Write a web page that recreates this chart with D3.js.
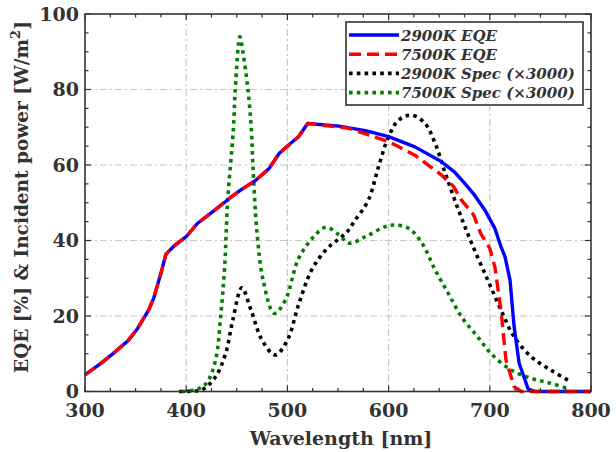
<!DOCTYPE html>
<html><head><meta charset="utf-8">
<script src="https://cdn.jsdelivr.net/npm/d3@7"></script>
<style>body{margin:0;background:#fff}svg{display:block}</style>
</head><body>
<svg id="c" width="616" height="452"></svg>
<script>
// ---- data ----
const xTicks = [300,400,500,600,700,800];
const yTicks = [0,20,40,60,80,100];

const eqe2900Wl = [300,316,328,343,352,363,368,375,380,389,400,411,426,443,454,469,482,492,503,511,520,551,577,600,626,652,665,675,685,695,705,711,715,720,724,729,738,745,800];
const eqe2900   = [4.4,7.5,10.1,13.6,16.7,21.6,24.8,31.3,36.4,38.8,41,44.5,47.6,51.2,53.4,56,59.1,63.1,65.7,67.5,71.0,70.3,69.1,67.5,64.8,60.9,58.2,55.2,52,48.1,43.2,38.4,35.7,29.5,17.2,7.5,0.6,0,0];

const eqe7500Wl = [300,316,328,343,352,363,368,375,380,389,400,411,426,443,454,469,482,492,503,511,520,561,600,626,652,664,672,684,691,700,705,711,716,724,731,800];
const eqe7500   = [4.4,7.5,10.1,13.6,16.7,21.6,24.8,31.3,36.4,38.8,41,44.5,47.6,51.2,53.4,56,59.1,63.1,65.7,67.5,71.0,69.7,66.2,62.6,57.4,54.4,50.7,46.8,41.9,37.9,33,21.6,8.3,1.3,0,0];

const spec2900Wl = [393,405,416,429,439,446,455,464,475,488,500,511,524,538,550,558,567,580,590,600,610,623,636,646,656,669,682,698,711,724,741,760,780];
const spec2900   = [0,0.1,0.5,3.9,10.1,18.9,27.5,21.6,13.6,9.7,13.6,23,32.2,37.5,40.3,42,45.4,50.7,59.5,67.5,71.9,73.2,71,65.7,57.8,48.1,39.3,29.5,21.6,14.5,9.2,5.7,2.6];

const spec7500Wl = [396,410,420,429,434,438,441,446.5,448.5,453,456,461,464.5,466,470,476,487,498,511,526,538,551,561,577,597,606,620,633,646,659,672,688,701,721,741,760,777];
const spec7500   = [0,0.5,2.2,8.3,19.8,33,50.7,69,80,94,90,80,69,59.5,42,29.5,20.7,24.2,35.2,41,43.5,41.5,39.3,41,43.7,44.1,43.2,39.3,32.2,26,19.8,14.5,10.1,5.7,3.5,2.2,0.8];

const seriesNames = ["2900K EQE","7500K EQE","2900K Spec (\u00d73000)","7500K Spec (\u00d73000)"];
const seriesColors = ["#0000ff","#ff0000","#000000","#007f00"];

// ---- layout ----
const svg = d3.select("#c");
const L = 85, R = 591, T = 14, B = 391.5;
const x = d3.scaleLinear().domain([300,800]).range([L,R]);
const y = d3.scaleLinear().domain([0,100]).range([B,T]);
const font = "'DejaVu Serif', serif";
const txtCol = "#333";

// grid
const g = svg.append("g");
g.selectAll(".gx").data(xTicks.slice(1,-1)).join("line")
  .attr("x1",d=>x(d)).attr("x2",d=>x(d)).attr("y1",T).attr("y2",B)
  .attr("stroke","#c8c8c8").attr("stroke-width",1.2).attr("stroke-dasharray","7,3,2,3");
g.selectAll(".gy").data(yTicks.slice(1,-1)).join("line")
  .attr("y1",d=>y(d)).attr("y2",d=>y(d)).attr("x1",L).attr("x2",R)
  .attr("stroke","#c8c8c8").attr("stroke-width",1.2).attr("stroke-dasharray","7,3,2,3");

// minor / major inward ticks on all sides
const xMinor = d3.range(300,801,25), yMinor = d3.range(0,101,5);
function axisTicks(){
  const a = svg.append("g").attr("stroke",txtCol).attr("stroke-width",1.2);
  xMinor.forEach(v=>{
    const len = (v%100===0)?6:3.5;
    a.append("line").attr("x1",x(v)).attr("x2",x(v)).attr("y1",B).attr("y2",B-len);
    a.append("line").attr("x1",x(v)).attr("x2",x(v)).attr("y1",T).attr("y2",T+len);
  });
  yMinor.forEach(v=>{
    const len = (v%20===0)?6:3.5;
    a.append("line").attr("y1",y(v)).attr("y2",y(v)).attr("x1",L).attr("x2",L+len);
    a.append("line").attr("y1",y(v)).attr("y2",y(v)).attr("x1",R).attr("x2",R-len);
  });
}

// lines
const lin = d3.line().x(d=>x(d[0])).y(d=>y(d[1]));
const smooth = d3.line().x(d=>x(d[0])).y(d=>y(d[1])).curve(d3.curveCatmullRom.alpha(0.5));
const zip = (a,b)=>a.map((v,i)=>[v,b[i]]);
const plot = svg.append("g");

plot.append("path").attr("d",smooth(zip(spec2900Wl,spec2900))).attr("fill","none")
  .attr("stroke",seriesColors[2]).attr("stroke-width",3.6).attr("stroke-dasharray","3.6,4.2");
plot.append("path").attr("d",smooth(zip(spec7500Wl,spec7500))).attr("fill","none")
  .attr("stroke",seriesColors[3]).attr("stroke-width",3.6).attr("stroke-dasharray","3.6,4.2");
plot.append("path").attr("d",lin(zip(eqe2900Wl,eqe2900))).attr("fill","none")
  .attr("stroke",seriesColors[0]).attr("stroke-width",3.4).attr("stroke-linejoin","round");
plot.append("path").attr("d",lin(zip(eqe7500Wl,eqe7500))).attr("fill","none")
  .attr("stroke",seriesColors[1]).attr("stroke-width",3.4).attr("stroke-dasharray","12,6").attr("stroke-linejoin","round");

axisTicks();
// frame
svg.append("rect").attr("x",L).attr("y",T).attr("width",R-L).attr("height",B-T)
  .attr("fill","none").attr("stroke",txtCol).attr("stroke-width",1.6);

// tick labels
svg.append("g").selectAll("text").data(xTicks).join("text")
  .attr("x",d=>x(d)).attr("y",B+25).attr("text-anchor","middle")
  .attr("font-family",font).attr("font-weight","bold").attr("font-size",19).attr("fill",txtCol)
  .text(d=>d);
svg.append("g").selectAll("text").data(yTicks).join("text")
  .attr("x",L-6).attr("y",d=>y(d)+6.5).attr("text-anchor","end")
  .attr("font-family",font).attr("font-weight","bold").attr("font-size",19).attr("fill",txtCol)
  .text(d=>d);

// axis titles
svg.append("text").attr("x",341).attr("y",445).attr("text-anchor","middle")
  .attr("font-family",font).attr("font-weight","bold").attr("font-size",19).attr("fill",txtCol)
  .text("Wavelength [nm]");
const yt = svg.append("text").attr("transform","translate(28,197) rotate(-90)")
  .attr("text-anchor","middle")
  .attr("font-family",font).attr("font-weight","bold").attr("font-size",18.5).attr("fill",txtCol);
yt.append("tspan").text("EQE [%] & Incident power [W/m");
yt.append("tspan").attr("dy",-8).attr("font-size",13).text("2");
yt.append("tspan").attr("dy",8).text("]");

// legend
const lg = svg.append("g");
lg.append("rect").attr("x",346).attr("y",22).attr("width",237).attr("height",83)
  .attr("fill","#fff").attr("stroke",txtCol).attr("stroke-width",1.6);
const dashes = [null,"12,6","3.6,4.2","3.6,4.2"];
seriesNames.forEach((n,i)=>{
  const yy = 35 + i*19.2;
  const l = lg.append("line").attr("x1",349).attr("x2",399).attr("y1",yy).attr("y2",yy)
    .attr("stroke",seriesColors[i]).attr("stroke-width",3.6);
  if(dashes[i]) l.attr("stroke-dasharray",dashes[i]);
  lg.append("text").attr("x",401).attr("y",yy+5.5)
    .attr("font-family",font).attr("font-weight","bold").attr("font-style","italic")
    .attr("font-size",15).attr("fill",txtCol).text(n);
});
</script>
</body></html>
